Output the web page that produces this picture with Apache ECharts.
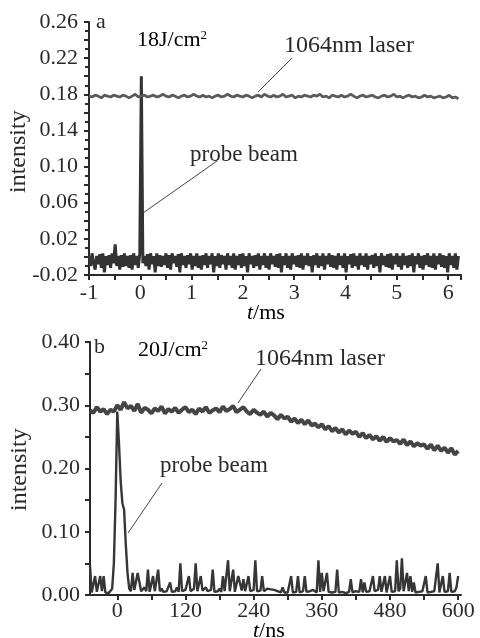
<!DOCTYPE html>
<html><head><meta charset="utf-8">
<script src="https://cdn.jsdelivr.net/npm/echarts@6/dist/echarts.min.js"></script>
<style>html,body{margin:0;padding:0;background:#fff}#c{width:480px;height:638px}</style>
</head><body><div id="c"></div>
<script>
// ---- panel a (t in ms) ----
const aStart = -1, aLaserStep = 0.06, aProbeStep = 0.03;
const aYLabels = [-0.02, 0.02, 0.06, 0.10, 0.14, 0.18, 0.22, 0.26];
const aXLabels = [-1, 0, 1, 2, 3, 4, 5, 6];
const laserA = [
0.178,0.177,0.179,0.178,0.176,0.179,0.178,0.177,0.179,0.178,
0.177,0.179,0.178,0.176,0.178,0.18,0.177,0.178,0.179,0.177,
0.178,0.179,0.177,0.178,0.18,0.178,0.177,0.179,0.178,0.176,
0.178,0.179,0.177,0.178,0.18,0.178,0.177,0.179,0.177,0.178,
0.176,0.178,0.179,0.177,0.178,0.18,0.178,0.177,0.179,0.178,
0.177,0.179,0.178,0.176,0.178,0.179,0.177,0.18,0.178,0.177,
0.179,0.177,0.178,0.18,0.177,0.178,0.179,0.176,0.178,0.177,
0.179,0.178,0.177,0.179,0.178,0.18,0.177,0.178,0.176,0.179,
0.178,0.177,0.179,0.177,0.178,0.18,0.178,0.176,0.178,0.179,
0.177,0.178,0.179,0.177,0.176,0.178,0.179,0.177,0.178,0.18,
0.177,0.178,0.176,0.178,0.179,0.177,0.178,0.176,0.177,0.179,
0.177,0.178,0.176,0.177,0.178,0.176,0.177,0.179,0.176,0.177,
0.175];
const probeA = [
0.001,-0.01,0.004,-0.007,-0.014,0.001,-0.008,0.003,-0.012,0.004,-0.017,0.001,
-0.009,0.002,-0.012,0.004,-0.007,0.014,-0.01,0.001,-0.014,0.002,-0.011,0.004,
-0.01,0.001,-0.012,0.002,-0.014,0.004,-0.009,0.001,-0.012,0.004,0.2,-0.007,
0.001,-0.01,0.003,-0.014,0.004,-0.008,0.001,-0.017,0.004,-0.01,0.002,-0.011,
0.001,-0.009,0.004,-0.012,0.002,-0.014,0.004,-0.007,0.001,-0.011,0.003,-0.017,
0.004,-0.009,0.001,-0.012,0.002,-0.008,0.004,-0.014,0.001,-0.01,0.004,-0.012,
0.001,-0.014,0.002,-0.009,0.004,-0.012,0.001,-0.008,0.004,-0.017,0.001,-0.01,
0.004,-0.012,0.002,-0.008,0.001,-0.014,0.004,-0.009,0.001,-0.012,0.004,-0.014,
0.001,-0.009,0.003,-0.012,0.004,-0.01,0.001,-0.017,0.004,-0.008,0.001,-0.012,
0.002,-0.01,0.004,-0.014,0.001,-0.009,0.004,-0.012,0.001,-0.014,0.004,-0.008,
0.001,-0.011,0.003,-0.012,0.004,-0.017,0.001,-0.009,0.004,-0.012,0.001,-0.014,
0.004,-0.008,0.001,-0.011,0.002,-0.012,0.004,-0.014,0.001,-0.009,0.004,-0.01,
0.001,-0.017,0.002,-0.009,0.004,-0.012,0.001,-0.01,0.004,-0.014,0.001,-0.008,
0.004,-0.011,0.002,-0.012,0.001,-0.014,0.004,-0.009,0.001,-0.012,0.004,-0.017,
0.001,-0.008,0.003,-0.012,0.004,-0.01,0.001,-0.014,0.004,-0.009,0.001,-0.011,
0.004,-0.014,0.001,-0.008,0.002,-0.012,0.004,-0.01,0.001,-0.017,0.004,-0.009,
0.001,-0.011,0.003,-0.012,0.004,-0.014,0.001,-0.008,0.004,-0.011,0.001,-0.014,
0.004,-0.009,0.001,-0.012,0.002,-0.01,0.004,-0.017,0.001,-0.008,0.004,-0.012,
0.001,-0.014,0.002,-0.009,0.004,-0.011,0.001,-0.012,0.004,-0.014,0.001,-0.008,
0.004,-0.011,0.002,-0.012,0.001,-0.017,0.004,-0.009,0.001,-0.012,0.004,-0.014,
0.001];

// ---- panel b (t in ns) ----
const bStart = -48, bLaserStep = 6, bProbeStep = 3;
const bXLabels = [0, 120, 240, 360, 480, 600];
const bXTicks = [0, 60, 120, 180, 240, 300, 360, 420, 480, 540, 600];
const laserB = [
0.292,0.288,0.297,0.29,0.294,0.286,0.293,0.29,0.3,0.293,
0.305,0.295,0.299,0.291,0.302,0.288,0.296,0.293,0.287,0.295,
0.291,0.298,0.287,0.294,0.29,0.296,0.288,0.293,0.297,0.289,
0.293,0.286,0.295,0.29,0.297,0.288,0.292,0.295,0.289,0.298,
0.291,0.294,0.299,0.289,0.293,0.297,0.29,0.286,0.293,0.288,
0.285,0.29,0.282,0.288,0.284,0.278,0.285,0.279,0.282,0.274,
0.279,0.272,0.277,0.27,0.276,0.268,0.271,0.265,0.27,0.262,
0.267,0.259,0.264,0.257,0.262,0.254,0.26,0.255,0.258,0.25,
0.256,0.248,0.253,0.246,0.251,0.244,0.25,0.242,0.248,0.243,
0.245,0.239,0.246,0.237,0.243,0.235,0.24,0.236,0.238,0.231,
0.238,0.229,0.236,0.228,0.233,0.225,0.232,0.222,0.228];
const probeB = [
0.047,0.004,0.006,0.03,0.005,0.003,0.03,0.006,0.03,0.004,
0.005,0.003,0.006,0.01,0.05,0.15,0.29,0.24,0.18,0.145,
0.135,0.08,0.035,0.01,0.006,0.035,0.008,0.005,0.035,0.02,
0.006,0.004,0.012,0.006,0.04,0.005,0.007,0.03,0.006,0.004,
0.04,0.006,0.01,0.005,0.003,0.006,0.008,0.02,0.005,0.004,
0.006,0.012,0.005,0.05,0.006,0.004,0.008,0.005,0.03,0.006,
0.004,0.01,0.05,0.006,0.005,0.03,0.007,0.004,0.012,0.006,
0.005,0.008,0.04,0.005,0.004,0.006,0.01,0.005,0.03,0.006,
0.004,0.055,0.006,0.008,0.04,0.005,0.006,0.03,0.03,0.007,
0.025,0.006,0.005,0.03,0.006,0.004,0.008,0.055,0.006,0.005,
0.007,0.03,0.006,0.008,0.01,0.01,0.009,0.01,0.008,0.009,
0.006,0.005,0.004,0.012,0.004,0.003,0.004,0.005,0.03,0.004,
0.003,0.005,0.03,0.004,0.003,0.006,0.03,0.005,0.004,0.006,
0.005,0.008,0.006,0.004,0.055,0.005,0.035,0.006,0.004,0.035,
0.005,0.003,0.004,0.006,0.005,0.04,0.004,0.003,0.005,0.004,
0.003,0.006,0.005,0.025,0.004,0.003,0.006,0.004,0.005,0.025,
0.004,0.02,0.005,0.004,0.006,0.005,0.03,0.006,0.004,0.008,
0.03,0.005,0.006,0.03,0.004,0.006,0.03,0.005,0.008,0.006,
0.055,0.006,0.01,0.058,0.006,0.005,0.035,0.006,0.03,0.005,
0.02,0.004,0.003,0.005,0.004,0.006,0.003,0.03,0.004,0.003,
0.005,0.004,0.006,0.005,0.05,0.004,0.006,0.03,0.005,0.004,
0.006,0.035,0.005,0.008,0.006,0.012,0.03];

const FONT = 'Liberation Serif';
const INK = '#2a2a2a';
const toXY = (arr, start, step) => arr.map((v, i) => [+(start + i * step).toFixed(4), v]);

const axisLine = { show: true, onZero: false, lineStyle: { color: INK, width: 2 } };
const lbl = (extra) => Object.assign({ fontFamily: FONT, fontSize: 22, color: INK }, extra);

const chart = echarts.init(document.getElementById('c'), null, { renderer: 'canvas' });
chart.setOption({
  backgroundColor: '#fff',
  animation: false,
  grid: [
    { left: 89, top: 22, width: 372, height: 253 },
    { left: 90, top: 342, width: 371, height: 253 }
  ],
  xAxis: [
    { type: 'value', gridIndex: 0, min: -1, max: 6.25, interval: 1,
      axisLine, splitLine: { show: false },
      axisTick: { show: true, inside: false, length: 5, lineStyle: { color: INK, width: 2 } },
      minorTick: { show: true, splitNumber: 2, length: 5, lineStyle: { color: INK, width: 2 } },
      axisLabel: lbl({ margin: 7, showMaxLabel: false, formatter: v => (aXLabels.includes(Math.round(v)) && Math.abs(v - Math.round(v)) < 1e-6) ? String(v) : '' }) },
    { type: 'value', gridIndex: 1, min: -48, max: 605,
      axisLine, splitLine: { show: false },
      axisTick: { show: true, inside: false, length: 5, customValues: bXTicks, lineStyle: { color: INK, width: 2 } },
      axisLabel: lbl({ margin: 5, customValues: bXLabels, formatter: v => String(v) }) }
  ],
  yAxis: [
    { type: 'value', gridIndex: 0, min: -0.02, max: 0.26, interval: 0.02,
      axisLine, splitLine: { show: false },
      axisTick: { show: true, inside: false, length: 5, lineStyle: { color: INK, width: 2 } },
      minorTick: { show: true, splitNumber: 2, length: 4, lineStyle: { color: INK, width: 2 } },
      axisLabel: lbl({ margin: 11, formatter: v => {
        const k = Math.round(v * 100);
        return (Math.abs(k % 4) === 2) ? v.toFixed(2) : '';
      } }) },
    { type: 'value', gridIndex: 1, min: 0, max: 0.40, interval: 0.1,
      axisLine, splitLine: { show: false },
      axisTick: { show: true, inside: false, length: 5, lineStyle: { color: INK, width: 2 } },
      minorTick: { show: true, splitNumber: 2, length: 5, lineStyle: { color: INK, width: 2 } },
      axisLabel: lbl({ margin: 10, formatter: v => v.toFixed(2) }) }
  ],
  series: [
    { type: 'line', xAxisIndex: 0, yAxisIndex: 0, showSymbol: false, silent: true,
      data: toXY(probeA, aStart, aProbeStep), lineStyle: { color: '#333', width: 3 } },
    { type: 'line', xAxisIndex: 0, yAxisIndex: 0, showSymbol: false, silent: true,
      data: toXY(laserA, aStart, aLaserStep), lineStyle: { color: '#5a5a5a', width: 2.8 } },
    { type: 'line', xAxisIndex: 1, yAxisIndex: 1, showSymbol: false, silent: true,
      data: toXY(probeB, bStart, bProbeStep), lineStyle: { color: '#363636', width: 2.4 } },
    { type: 'line', xAxisIndex: 1, yAxisIndex: 1, showSymbol: false, silent: true,
      data: toXY(laserB, bStart, bLaserStep), lineStyle: { color: '#454545', width: 4 } }
  ],
  graphic: [
    // panel a annotations
    { type: 'text', left: 96, top: 11, style: { text: 'a', font: '22px "' + FONT + '"', fill: INK } },
    { type: 'text', left: 137, top: 29, style: { text: '{m|18J/cm}{s|2}', rich: {
        m: { fontFamily: FONT, fontSize: 22, color: INK },
        s: { fontFamily: FONT, fontSize: 13, color: INK, verticalAlign: 'top', padding: [0, 0, 10, 0] } } } },
    { type: 'text', left: 284, top: 34, style: { text: '1064nm laser', font: '24px "' + FONT + '"', fill: INK } },
    { type: 'line', shape: { x1: 292, y1: 58, x2: 258, y2: 92 }, style: { stroke: '#444', lineWidth: 1 } },
    { type: 'text', left: 190, top: 143, style: { text: 'probe beam', font: '23px "' + FONT + '"', fill: INK } },
    { type: 'line', shape: { x1: 217, y1: 161, x2: 143, y2: 213 }, style: { stroke: '#444', lineWidth: 1 } },
    { type: 'text', rotation: Math.PI / 2, x: 7, y: 193, style: { text: 'intensity', font: '24px "' + FONT + '"', fill: INK } },
    { type: 'text', left: 247, top: 302, style: { text: '{i|t}{n|/ms}', rich: {
        i: { fontFamily: FONT, fontSize: 22, fontStyle: 'italic', color: INK },
        n: { fontFamily: FONT, fontSize: 22, color: INK } } } },
    // panel b annotations
    { type: 'text', left: 94, top: 336, style: { text: 'b', font: '22px "' + FONT + '"', fill: INK } },
    { type: 'text', left: 138, top: 339, style: { text: '{m|20J/cm}{s|2}', rich: {
        m: { fontFamily: FONT, fontSize: 22, color: INK },
        s: { fontFamily: FONT, fontSize: 13, color: INK, verticalAlign: 'top', padding: [0, 0, 10, 0] } } } },
    { type: 'text', left: 255, top: 347, style: { text: '1064nm laser', font: '24px "' + FONT + '"', fill: INK } },
    { type: 'line', shape: { x1: 261, y1: 369, x2: 238, y2: 403 }, style: { stroke: '#444', lineWidth: 1 } },
    { type: 'text', left: 160, top: 454, style: { text: 'probe beam', font: '23px "' + FONT + '"', fill: INK } },
    { type: 'line', shape: { x1: 162, y1: 483, x2: 128, y2: 533 }, style: { stroke: '#444', lineWidth: 1 } },
    { type: 'text', rotation: Math.PI / 2, x: 8, y: 511, style: { text: 'intensity', font: '24px "' + FONT + '"', fill: INK } },
    { type: 'text', left: 253, top: 620, style: { text: '{i|t}{n|/ns}', rich: {
        i: { fontFamily: FONT, fontSize: 22, fontStyle: 'italic', color: INK },
        n: { fontFamily: FONT, fontSize: 22, color: INK } } } }
  ]
});
</script>
</body></html>
